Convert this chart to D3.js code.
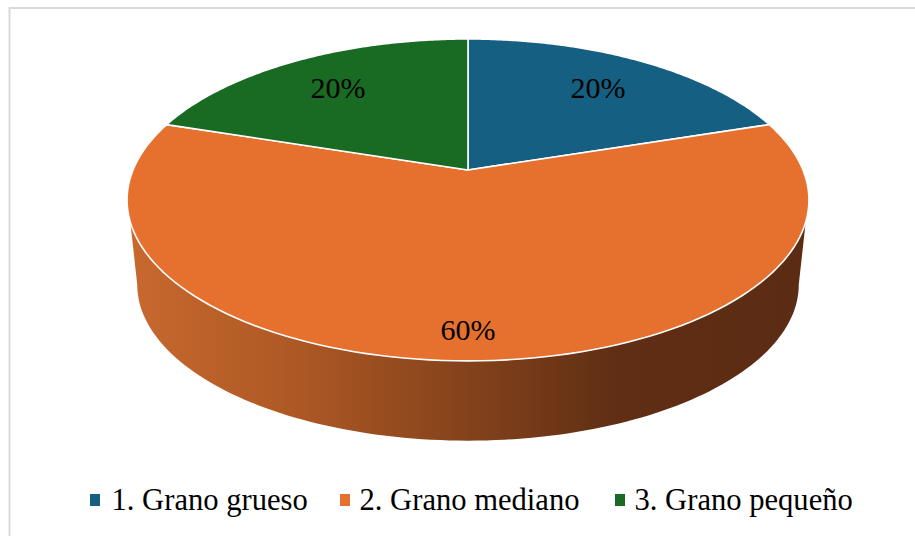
<!DOCTYPE html>
<html><head><meta charset="utf-8">
<script src="https://cdn.jsdelivr.net/npm/d3@7"></script>
<style>html,body{margin:0;background:#fff}svg{display:block}text{font-family:"Liberation Serif",serif;fill:#000}</style>
</head><body><svg id="c" width="915" height="536"></svg>
<script>
const categories = ["1. Grano grueso", "2. Grano mediano", "3. Grano pequeño"];
const seriesValues = [20, 60, 20];
const colors = ["#156082", "#E6712F", "#196B24"];
const wallStops = [[0,"#c8692f"],[0.25,"#ad5824"],[0.5,"#84421b"],[0.72,"#5f2e14"],[1,"#5b2b13"]];

const svg = d3.select("#c");
const cx = 468, k = 0.186;
const top3d = {A:335, B:155.4, y0:170};
const bot3d = {A:325, B:150.7, y0:255.5};
const proj = (p, t, r=1) => {
  const X = r*Math.sin(t), Y = r*Math.cos(t), w = 1 + k*Y;
  return [cx + p.A*X/w, p.y0 - p.B*Y/w];
};
const arcs = d3.pie().sort(null)(seriesValues);
const steps = t => d3.range(0, 1.0001, 1/120).map(u => t[0] + (t[1]-t[0])*u);
const line = d3.line();

// border
svg.append("path").attr("d","M9.5,536V8H915").attr("fill","none").attr("stroke","#d9d9d9").attr("stroke-width",2);

// wall
const defs = svg.append("defs");
const g = defs.append("linearGradient").attr("id","wall").attr("gradientUnits","userSpaceOnUse")
  .attr("x1",128).attr("x2",808).attr("y1",0).attr("y2",0);
wallStops.forEach(s => g.append("stop").attr("offset",s[0]).attr("stop-color",s[1]));
const rad = d => d*Math.PI/180;
const wallTop = steps([rad(108.4), rad(251.6)]).map(t => proj(top3d,t));
const wallBot = steps([rad(100.7), rad(259.3)]).map(t => proj(bot3d,t)).reverse();
svg.append("path").attr("d", line(wallTop.concat(wallBot))+"Z").attr("fill","url(#wall)");

// top slices
arcs.forEach((a,i) => {
  const pts = [proj(top3d,0,0)].concat(steps([a.startAngle,a.endAngle]).map(t => proj(top3d,t)));
  svg.append("path").attr("d", line(pts)+"Z").attr("fill",colors[i])
    .attr("stroke","#fff").attr("stroke-width",1.6).attr("stroke-linejoin","round");
});

// labels
const labelPos = [[598,98],[338,98],[468,340]];
const labelOrder = [0,2,1];
labelOrder.forEach((i,n) => {
  svg.append("text").attr("x",labelPos[n][0]).attr("y",labelPos[n][1])
    .attr("text-anchor","middle").attr("font-size",30).text(seriesValues[i]+"%");
});

// legend
const legendX = [90, 340, 615], textX = [111.5, 359.5, 634.5];
categories.forEach((c,i) => {
  svg.append("rect").attr("x",legendX[i]).attr("y",494).attr("width",10).attr("height",12).attr("fill",colors[i]);
  svg.append("text").attr("x",textX[i]).attr("y",510).attr("font-size",30.6).text(c);
});
</script></body></html>
